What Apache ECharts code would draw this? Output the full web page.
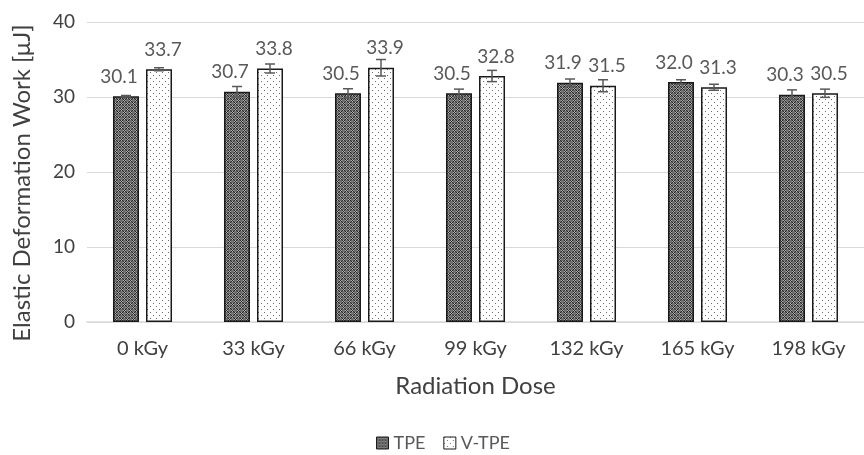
<!DOCTYPE html>
<html>
<head>
<meta charset="utf-8">
<script src="https://cdn.jsdelivr.net/npm/echarts@6/dist/echarts.min.js"></script>
<style>
  html, body { margin: 0; padding: 0; background: #fff; }
  #chart { width: 864px; height: 455px; }
</style>
</head>
<body>
<div id="chart"></div>
<script>
var categories = ["0 kGy", "33 kGy", "66 kGy", "99 kGy", "132 kGy", "165 kGy", "198 kGy"];
var tpeValues = [30.1, 30.7, 30.5, 30.5, 31.9, 32.0, 30.3];
var tpeErrors = [0.1, 0.7, 0.6, 0.55, 0.5, 0.3, 0.65];
var vtpeValues = [33.7, 33.8, 33.9, 32.8, 31.5, 31.3, 30.5];
var vtpeErrors = [0.2, 0.6, 1.1, 0.75, 0.8, 0.4, 0.55];
var yTicks = [0, 10, 20, 30, 40];

var FONT = "Lato";

// checkered fill for TPE
function makeChecker() {
  var c = document.createElement("canvas");
  c.width = 6;
  c.height = 6;
  var ctx = c.getContext("2d");
  ctx.fillStyle = "#6e6e6e";
  ctx.fillRect(0, 0, 6, 6);
  for (var y = 0; y < 6; y++) {
    for (var x = 0; x < 6; x++) {
      var inBlock = (x < 3 && y < 3) || (x >= 3 && y >= 3);
      if (inBlock) {
        ctx.fillStyle = (x + y) % 2 === 0 ? "#262626" : "#b0b0b0";
        ctx.fillRect(x, y, 1, 1);
      }
    }
  }
  return c;
}

// dotted fill for V-TPE
function makeDots() {
  var c = document.createElement("canvas");
  c.width = 6;
  c.height = 6;
  var ctx = c.getContext("2d");
  ctx.fillStyle = "#ffffff";
  ctx.fillRect(0, 0, 6, 6);
  ctx.fillStyle = "#6e6e6e";
  ctx.fillRect(0, 0, 1, 1);
  ctx.fillRect(3, 3, 1, 1);
  return c;
}

var BAR_W = 26;
var BAR_GAP = 7;

function errorSeries(name, values, errors, shift) {
  return {
    name: name + " err",
    type: "custom",
    silent: true,
    z: 5,
    data: values.map(function (v, i) { return [i, v - errors[i], v + errors[i]]; }),
    renderItem: function (params, api) {
      var lo = api.coord([api.value(0), api.value(1)]);
      var hi = api.coord([api.value(0), api.value(2)]);
      var x = lo[0] + shift;
      var half = 5;
      var style = { stroke: "#595959", lineWidth: 1.5 };
      return {
        type: "group",
        children: [
          { type: "line", shape: { x1: x, y1: lo[1], x2: x, y2: hi[1] }, style: style },
          { type: "line", shape: { x1: x - half, y1: hi[1], x2: x + half, y2: hi[1] }, style: style },
          { type: "line", shape: { x1: x - half, y1: lo[1], x2: x + half, y2: lo[1] }, style: style }
        ]
      };
    }
  };
}

var myChart = echarts.init(document.getElementById("chart"));
var shift = (BAR_W + BAR_GAP) / 2;

var option = {
  backgroundColor: "#ffffff",
  animation: false,
  textStyle: { fontFamily: FONT },
  grid: {
    left: 87,
    top: 22,
    width: 791,
    height: 300
  },
  legend: {
    data: ["TPE", "V-TPE"],
    top: 434,
    left: 376,
    padding: 0,
    icon: "rect",
    itemWidth: 12,
    itemHeight: 12,
    itemGap: 18,
    itemStyle: { borderColor: "#1a1a1a", borderWidth: 1 },
    textStyle: { color: "#595959", fontSize: 18, fontFamily: FONT }
  },
  xAxis: {
    type: "category",
    data: categories,
    name: "Radiation Dose",
    nameLocation: "middle",
    nameGap: 52,
    nameTextStyle: { color: "#404040", fontSize: 24, fontFamily: FONT },
    axisLine: { lineStyle: { color: "#d9d9d9", width: 1.5 } },
    axisTick: { show: false },
    axisLabel: { color: "#404040", fontSize: 20, margin: 17, fontFamily: FONT }
  },
  yAxis: {
    type: "value",
    min: 0,
    max: 40,
    interval: 10,
    name: "Elastic Deformation Work [μJ]",
    nameLocation: "middle",
    nameGap: 53,
    nameTextStyle: { color: "#404040", fontSize: 24, fontFamily: FONT, padding: [0, 22, 0, 0] },
    axisLine: { show: false },
    axisTick: { show: false },
    axisLabel: {
      color: "#404040",
      fontSize: 19,
      margin: 12,
      fontFamily: FONT,
      formatter: function (v) { return yTicks.indexOf(v) >= 0 ? String(v) : ""; }
    },
    splitLine: { lineStyle: { color: "#d9d9d9", width: 1 } }
  },
  series: [
    {
      name: "TPE",
      type: "bar",
      data: tpeValues,
      barWidth: BAR_W,
      barGap: (BAR_GAP / BAR_W * 100).toFixed(0) + "%",
      itemStyle: {
        color: { image: makeChecker(), repeat: "repeat" },
        borderColor: "#1a1a1a",
        borderWidth: 1.5
      },
      label: {
        show: true,
        position: "top",
        distance: 10,
        offset: [-7, 0],
        color: "#595959",
        fontSize: 19,
        fontFamily: FONT,
        formatter: function (p) { return p.value.toFixed(1); }
      }
    },
    {
      name: "V-TPE",
      type: "bar",
      data: vtpeValues,
      barWidth: BAR_W,
      itemStyle: {
        color: { image: makeDots(), repeat: "repeat" },
        borderColor: "#1a1a1a",
        borderWidth: 1.5
      },
      label: {
        show: true,
        position: "top",
        distance: 10,
        offset: [4, 0],
        color: "#595959",
        fontSize: 19,
        fontFamily: FONT,
        formatter: function (p) { return p.value.toFixed(1); }
      }
    },
    errorSeries("TPE", tpeValues, tpeErrors, -shift),
    errorSeries("V-TPE", vtpeValues, vtpeErrors, shift)
  ]
};

window.onresize = function () {
  myChart.resize();
};
myChart.setOption(option);
</script>
</body>
</html>
